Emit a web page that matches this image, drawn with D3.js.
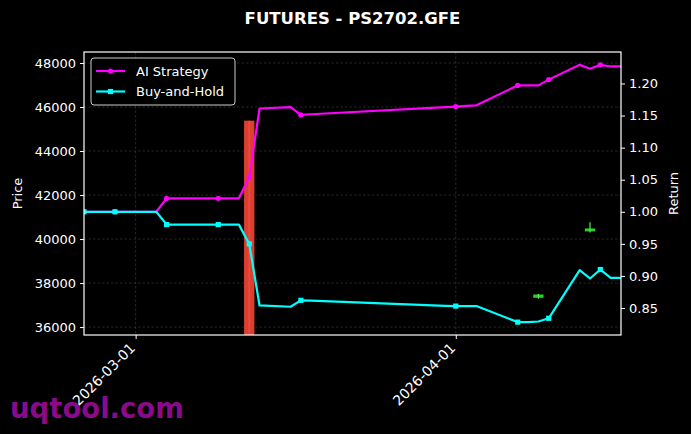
<!DOCTYPE html>
<html>
<head>
<meta charset="utf-8">
<script src="https://cdn.jsdelivr.net/npm/d3@7"></script>
<style>
  html, body { margin: 0; padding: 0; background: #000; }
  svg { display: block; font-family: "DejaVu Sans", sans-serif; }
</style>
</head>
<body>
<svg width="691" height="434"></svg>
<script>
// trading days shown on the chart
const dates = [
    "2026-02-24", "2026-02-25", "2026-02-26", "2026-02-27", "2026-03-02", "2026-03-03",
    "2026-03-04", "2026-03-05", "2026-03-06", "2026-03-09", "2026-03-10", "2026-03-11",
    "2026-03-12", "2026-03-13", "2026-03-16", "2026-03-17", "2026-03-18", "2026-03-31",
    "2026-04-01", "2026-04-02", "2026-04-03", "2026-04-07", "2026-04-08", "2026-04-09",
    "2026-04-10", "2026-04-13", "2026-04-14", "2026-04-15", "2026-04-16", "2026-04-17"
];

// cumulative returns (right axis)
const aiStrategy = [
    1.000, 1.000, 1.000, 1.000, 1.000, 1.000,
    1.021, 1.021, 1.021, 1.021, 1.021, 1.021,
    1.054, 1.161, 1.163, 1.151, 1.152, 1.163,
    1.164, 1.165, 1.166, 1.197, 1.197, 1.197,
    1.206, 1.229, 1.223, 1.229, 1.2265, 1.2265
];
const buyAndHold = [
    1.000, 1.000, 1.000, 1.000, 1.000, 1.000,
    0.980, 0.980, 0.980, 0.980, 0.980, 0.980,
    0.950, 0.854, 0.852, 0.862, 0.8615, 0.8535,
    0.853, 0.853, 0.853, 0.828, 0.828, 0.829,
    0.834, 0.909, 0.896, 0.910, 0.897, 0.897
];

// the few candles that show up (left axis)
const candleDates = ["2026-03-12", "2026-04-09", "2026-04-14"];
const candleOpen  = [45380, 37330, 40347];
const candleHigh  = [45380, 37500, 40769];
const candleLow   = [35000, 37283, 40302];
const candleClose = [35200, 37482, 40483];

const priceTicks = [36000, 38000, 40000, 42000, 44000, 46000, 48000];
const returnTicks = [0.85, 0.90, 0.95, 1.00, 1.05, 1.10, 1.15, 1.20];
const dateTicks = ["2026-03-01", "2026-04-01"];

const parse = d3.timeParse("%Y-%m-%d");
const DAY = 24 * 3600 * 1000;

const svg = d3.select("svg");
const margin = { left: 84, right: 70, top: 52, bottom: 99 };
const W = 691, H = 434;
const iw = W - margin.left - margin.right;
const ih = H - margin.top - margin.bottom;

const x = d3.scaleTime()
    .domain(d3.extent(dates, parse))
    .range([0, iw]);

const yPrice = d3.scaleLinear().domain([35640, 48500]).range([ih, 0]);

const rMin = d3.min([...aiStrategy, ...buyAndHold]);
const rMax = d3.max([...aiStrategy, ...buyAndHold]);
const pad = (rMax - rMin) * 0.05;
const yRet = d3.scaleLinear().domain([rMin - pad, rMax + pad]).range([ih, 0]);

svg.append("rect").attr("width", W).attr("height", H).attr("fill", "#000");

// title
svg.append("text")
    .attr("x", margin.left + iw / 2)
    .attr("y", 24)
    .attr("text-anchor", "middle")
    .attr("fill", "#fff")
    .attr("font-weight", "bold")
    .attr("font-size", 16.5)
    .text("FUTURES - PS2702.GFE");

const g = svg.append("g").attr("transform", `translate(${margin.left},${margin.top})`);

g.append("defs").append("clipPath").attr("id", "clip")
    .append("rect").attr("width", iw).attr("height", ih);

// grid
const grid = g.append("g")
    .attr("stroke", "#808080")
    .attr("stroke-opacity", 0.5)
    .attr("stroke-width", 0.6)
    .attr("stroke-dasharray", "2.5,2");
grid.selectAll("line.h").data(priceTicks).enter().append("line")
    .attr("x1", 0).attr("x2", iw)
    .attr("y1", d => yPrice(d)).attr("y2", d => yPrice(d));
grid.selectAll("line.v").data(dateTicks).enter().append("line")
    .attr("y1", 0).attr("y2", ih)
    .attr("x1", d => x(parse(d))).attr("x2", d => x(parse(d)));

const plot = g.append("g").attr("clip-path", "url(#clip)");

// candles
const candles = candleDates.map((d, i) => ({
    date: parse(d), o: candleOpen[i], h: candleHigh[i], l: candleLow[i], c: candleClose[i]
}));
const cw = x(new Date(DAY)) - x(new Date(0));
const cg = plot.append("g").selectAll("g").data(candles).enter().append("g");
cg.append("rect")
    .attr("x", d => x(d.date) - cw / 2)
    .attr("width", cw)
    .attr("y", d => yPrice(Math.max(d.o, d.c)))
    .attr("height", d => Math.max(1, Math.abs(yPrice(d.o) - yPrice(d.c))))
    .attr("fill", d => d.c >= d.o ? "#2ecc2e" : "#dc3f30");
cg.append("line")
    .attr("x1", d => x(d.date)).attr("x2", d => x(d.date))
    .attr("y1", d => yPrice(d.h)).attr("y2", d => yPrice(d.l))
    .attr("stroke", d => d.c >= d.o ? "#55ee55" : "#f0503c")
    .attr("stroke-width", 1.2);

// return lines
const series = [
    { name: "AI Strategy", values: aiStrategy, color: "#ff00ff", marker: "circle" },
    { name: "Buy-and-Hold", values: buyAndHold, color: "#00ffff", marker: "square" }
];
const line = d3.line()
    .x((d, i) => x(parse(dates[i])))
    .y(d => yRet(d));

series.forEach(s => {
    plot.append("path")
        .datum(s.values)
        .attr("fill", "none")
        .attr("stroke", s.color)
        .attr("stroke-width", 2.2)
        .attr("stroke-linejoin", "round")
        .attr("d", line);
    const pts = s.values.map((v, i) => ({ v, i })).filter(d => d.i % 3 === 0);
    if (s.marker === "circle") {
        plot.selectAll(null).data(pts).enter().append("circle")
            .attr("cx", d => x(parse(dates[d.i])))
            .attr("cy", d => yRet(d.v))
            .attr("r", 2.6)
            .attr("fill", s.color);
    } else {
        plot.selectAll(null).data(pts).enter().append("rect")
            .attr("x", d => x(parse(dates[d.i])) - 2.6)
            .attr("y", d => yRet(d.v) - 2.6)
            .attr("width", 5.2).attr("height", 5.2)
            .attr("fill", s.color);
    }
});

// axes
const styleAxis = sel => {
    sel.select(".domain").remove();
    sel.selectAll(".tick line").attr("stroke", "#fff");
    sel.selectAll(".tick text").attr("fill", "#fff").attr("font-size", 13)
        .attr("font-family", "DejaVu Sans, sans-serif");
};

g.append("g")
    .call(d3.axisLeft(yPrice).tickValues(priceTicks).tickSize(4).tickPadding(4).tickFormat(d3.format("d")))
    .call(styleAxis);

g.append("g")
    .attr("transform", `translate(${iw},0)`)
    .call(d3.axisRight(yRet).tickValues(returnTicks).tickSize(4).tickPadding(4).tickFormat(d3.format(".2f")))
    .call(styleAxis);

const xAxis = g.append("g")
    .attr("transform", `translate(0,${ih})`)
    .call(d3.axisBottom(x).tickValues(dateTicks.map(parse)).tickSize(4).tickFormat(d3.timeFormat("%Y-%m-%d")))
    .call(styleAxis);
xAxis.selectAll(".tick text")
    .attr("text-anchor", "end")
    .attr("dy", null)
    .attr("y", 0)
    .attr("font-size", 14)
    .attr("transform", "translate(0,14) rotate(-45)");

// frame
g.append("rect")
    .attr("width", iw).attr("height", ih)
    .attr("fill", "none").attr("stroke", "#fff").attr("stroke-width", 1.2);

// axis labels
svg.append("text")
    .attr("transform", `translate(22,${margin.top + ih / 2}) rotate(-90)`)
    .attr("text-anchor", "middle")
    .attr("fill", "#fff").attr("font-size", 13)
    .text("Price");
svg.append("text")
    .attr("transform", `translate(678,${margin.top + ih / 2}) rotate(-90)`)
    .attr("text-anchor", "middle")
    .attr("fill", "#fff").attr("font-size", 13)
    .text("Return");

// legend
const legend = g.append("g").attr("transform", "translate(7,6)");
legend.append("rect")
    .attr("width", 144).attr("height", 47).attr("rx", 3)
    .attr("fill", "#000").attr("fill-opacity", 0.8)
    .attr("stroke", "#cccccc").attr("stroke-width", 1);
series.forEach((s, i) => {
    const row = legend.append("g").attr("transform", `translate(0,${13 + i * 20.5})`);
    row.append("line")
        .attr("x1", 5).attr("x2", 34)
        .attr("stroke", s.color).attr("stroke-width", 2.2);
    if (s.marker === "circle") {
        row.append("circle").attr("cx", 19.5).attr("r", 2.6).attr("fill", s.color);
    } else {
        row.append("rect").attr("x", 16.9).attr("y", -2.6).attr("width", 5.2).attr("height", 5.2).attr("fill", s.color);
    }
    row.append("text")
        .attr("x", 45).attr("y", 4.5)
        .attr("fill", "#fff").attr("font-size", 13)
        .text(s.name);
});

// watermark
svg.append("text")
    .attr("x", 10).attr("y", 418)
    .attr("fill", "#8a0a8a")
    .attr("font-weight", "bold")
    .attr("font-size", 27.5)
    .text("uqtool.com");
</script>
</body>
</html>
